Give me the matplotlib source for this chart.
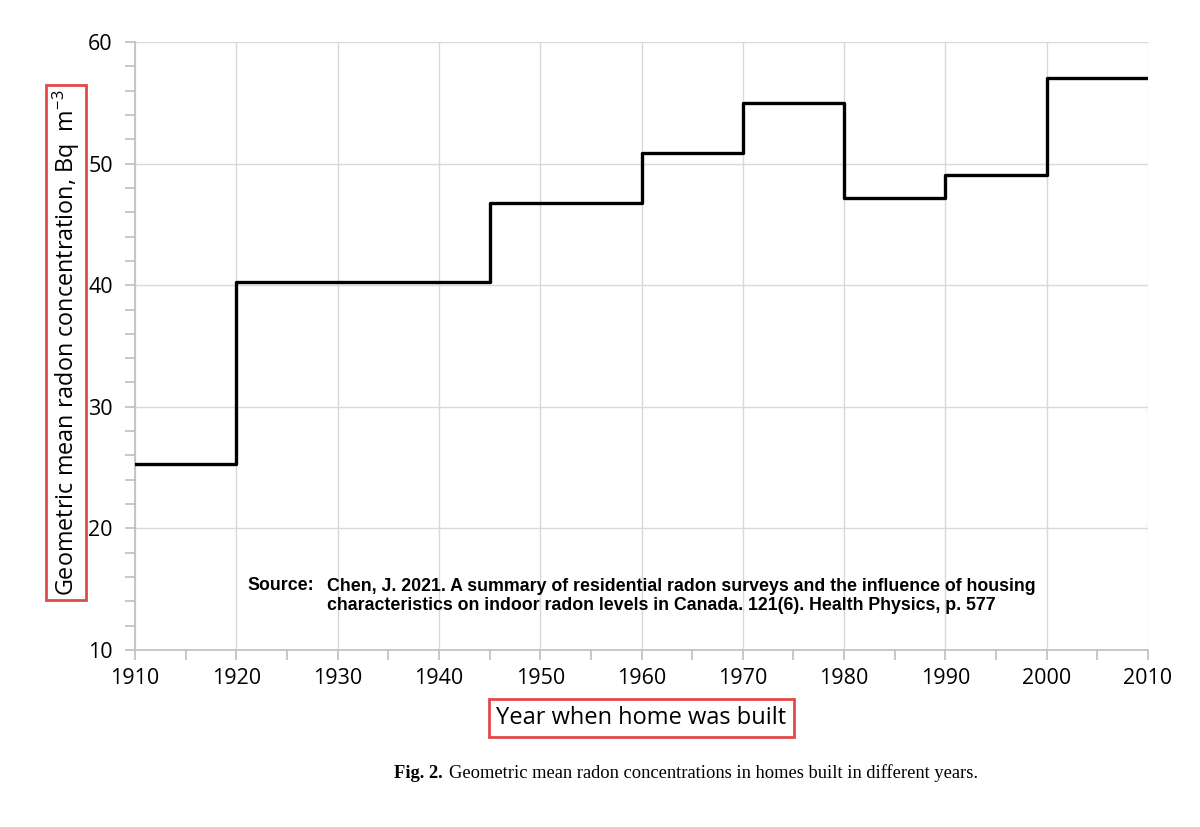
import matplotlib
matplotlib.use("Agg")
from matplotlib import pyplot as plt
from matplotlib.ticker import MultipleLocator

# dane
year_edges = [1910, 1920, 1945, 1960, 1970, 1980, 1990, 2000, 2010]
radon_gm = [25.3, 40.3, 46.8, 50.9, 55.0, 47.2, 49.1, 57.0]
x_ticks = list(range(1910, 2011, 10))
y_ticks = [10, 20, 30, 40, 50, 60]

source_txt = ("Chen, J. 2021. A summary of residential radon surveys and the influence of housing\n"
              "characteristics on indoor radon levels in Canada. 121(6). Health Physics, p. 577")

plt.rcParams["font.family"] = ["Open Sans", "DejaVu Sans"]

fig = plt.figure(figsize=(12, 8.27), dpi=100)
ax = fig.add_axes([135 / 1200, 1 - 650 / 827, (1148 - 135) / 1200, (650 - 42) / 827])

# schodki: ostatnia wartość powtórzona, żeby linia doszła do 2010
ax.step(year_edges, radon_gm + [radon_gm[-1]], where="post", color="black", lw=2.4, zorder=3)

ax.set_xlim(1910, 2010)
ax.set_ylim(10, 60)
ax.set_xticks(x_ticks)
ax.set_yticks(y_ticks)
ax.xaxis.set_minor_locator(MultipleLocator(5))
ax.yaxis.set_minor_locator(MultipleLocator(2))
ax.grid(True, which="major", color="#d9d9d9", lw=1)
for s in ["top", "right"]:
    ax.spines[s].set_visible(False)
for s in ["left", "bottom"]:
    ax.spines[s].set_color("#bfbfbf")
    ax.spines[s].set_linewidth(1.2)
ax.tick_params(which="both", direction="out", color="#bfbfbf", length=7, width=1.2,
               labelsize=15.5, labelcolor="black", pad=6)
ax.tick_params(axis="y", which="major", pad=9)

ax.set_ylabel(r"Geometric mean radon concentration, Bq  m$^{\mathregular{-3}}$", fontsize=16.8,
              va="center", ha="center",
              bbox=dict(boxstyle="square,pad=0.18", fc="white", ec="#e04a4a", lw=2))
ax.yaxis.set_label_coords((66 - 135) / 1013, 0.506)
ax.set_xlabel("Year when home was built", fontsize=17, labelpad=12,
              bbox=dict(boxstyle="square,pad=0.3", fc="white", ec="#e04a4a", lw=2))

fig.text(247 / 1200, 1 - 586 / 827, "Source:", fontsize=12.8, fontweight="bold",
         family="Liberation Sans", va="center")
fig.text(327 / 1200, 1 - 596 / 827, source_txt, fontsize=12.8, fontweight="bold",
         family="Liberation Sans", va="center", linespacing=1.2)

fig.text(394 / 1200, 1 - 773 / 827, "Fig. 2.", fontsize=13.3, fontweight="bold",
         family="Liberation Serif", va="center")
fig.text(449 / 1200, 1 - 773 / 827, "Geometric mean radon concentrations in homes built in different years.",
         fontsize=13.3, family="Liberation Serif", va="center")

plt.savefig("out.png")
plt.close()
